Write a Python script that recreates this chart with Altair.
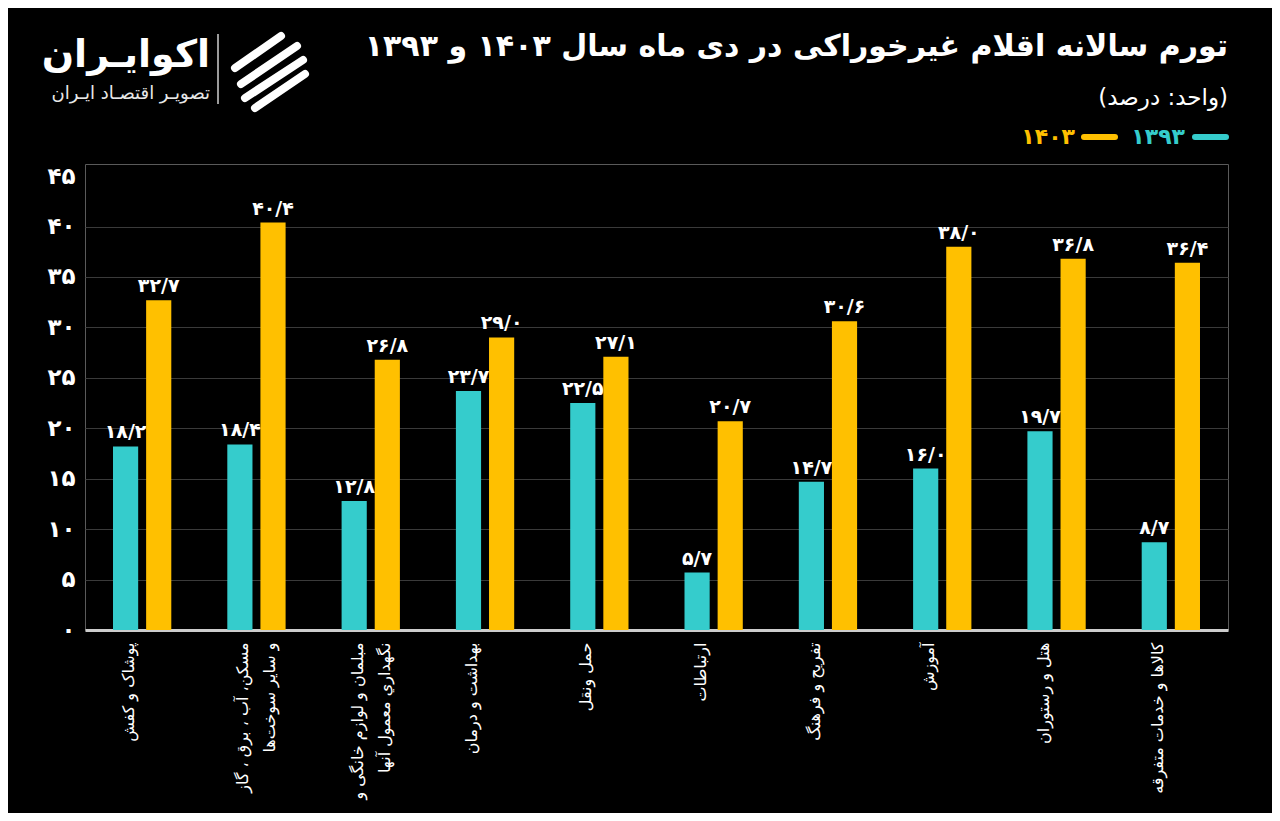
import altair as alt
import pandas as pd

# ---------------- data ----------------
categories = [
    "پوشاک و کفش",
    "مسکن، آب ، برق ، گاز|و سایر سوخت‌ها",
    "مبلمان و لوازم خانگی و|نگهداري معمول آنها",
    "بهداشت و درمان",
    "حمل ونقل",
    "ارتباطات",
    "تفریح و فرهنگ",
    "آموزش",
    "هتل و رستوران",
    "کالاها و خدمات متفرقه",
]
values_1393 = [18.2, 18.4, 12.8, 23.7, 22.5, 5.7, 14.7, 16.0, 19.7, 8.7]
values_1403 = [32.7, 40.4, 26.8, 29.0, 27.1, 20.7, 30.6, 38.0, 36.8, 36.4]
series_names = ["1393", "1403"]
series_labels = ["۱۳۹۳", "۱۴۰۳"]
y_ticks = [0, 5, 10, 15, 20, 25, 30, 35, 40, 45]

title_text = "تورم سالانه اقلام غیرخوراکی در دی ماه سال ۱۴۰۳ و ۱۳۹۳"
subtitle_text = "(واحد: درصد)"
logo_main = "اکوایـران"
logo_sub = "تصویـر اقتصـاد ایـران"

CYAN = "#35CCCC"
YELLOW = "#FFC000"
FONT = "DejaVu Sans"

fa_digits = str.maketrans("0123456789.", "۰۱۲۳۴۵۶۷۸۹/")


def fa(v, dec=1):
    return (f"{v:.{dec}f}").translate(fa_digits)


rows = []
for c, a, b in zip(categories, values_1393, values_1403):
    rows.append({"category": c, "series": "1393", "value": a, "label": fa(a)})
    rows.append({"category": c, "series": "1403", "value": b, "label": fa(b)})
df = pd.DataFrame(rows)

y_tick_labels = [fa(t, 0) for t in y_ticks]
y_label_expr = "[" + ",".join(f"'{s}'" for s in y_tick_labels) + "][round(datum.value/5)]"

W, H = 1143, 466

x_enc = alt.X(
    "category:N",
    sort=categories,
    title=None,
    scale=alt.Scale(paddingInner=0.49, paddingOuter=0.245),
    axis=alt.Axis(
        labelAngle=270,
        labelExpr="split(datum.label, '|')",
        labelFont=FONT,
        labelFontSize=16,
        labelColor="white",
        labelLineHeight=27,
        labelPadding=12,
        labelLimit=400,
        labelOverlap=False,
        labelOffset=-13,
        ticks=False,
        domainColor="#cccccc",
        domainWidth=3,
        grid=False,
    ),
)
xoff_enc = alt.XOffset("series:N", sort=series_names,
                       scale=alt.Scale(paddingInner=0.24, paddingOuter=0))
y_enc = alt.Y(
    "value:Q",
    title=None,
    scale=alt.Scale(domain=[0, 46.2], nice=False),
    axis=alt.Axis(
        values=y_ticks,
        labelExpr=y_label_expr,
        labelFont=FONT,
        labelFontSize=23,
        labelFontWeight="bold",
        labelColor="white",
        labelPadding=10,
        ticks=False,
        domain=False,
        gridColor={"condition": {"test": "datum.value == 45", "value": "transparent"}, "value": "#3a3a3a"},
        gridWidth=1,
    ),
)
color_enc = alt.Color("series:N", scale=alt.Scale(domain=series_names, range=[CYAN, YELLOW]), legend=None)

base = alt.Chart(df)
bars = base.mark_bar().encode(x=x_enc, xOffset=xoff_enc, y=y_enc, color=color_enc)
labels = base.mark_text(baseline="bottom", dy=-4, fontSize=19, fontWeight="bold",
                        color="white", font=FONT).encode(
    x=alt.X("category:N", sort=categories), xOffset=alt.XOffset("series:N", sort=series_names),
    y="value:Q", text="label:N")

# ---------------- header / legend / logo ----------------
title = alt.Chart(pd.DataFrame({"t": [title_text]})).mark_text(
    align="right", baseline="middle", fontSize=30, fontWeight="bold", color="white", font=FONT
).encode(x=alt.value(W), y=alt.value(-117), text="t:N")
subtitle = alt.Chart(pd.DataFrame({"t": [subtitle_text]})).mark_text(
    align="right", baseline="middle", fontSize=23, color="white", font=FONT
).encode(x=alt.value(W), y=alt.value(-66), text="t:N")

leg_c_txt = alt.Chart(pd.DataFrame({"t": [series_labels[0]]})).mark_text(
    align="right", baseline="middle", fontSize=22, fontWeight="bold", color=CYAN, font=FONT
).encode(x=alt.value(1100), y=alt.value(-27), text="t:N")
leg_y_txt = alt.Chart(pd.DataFrame({"t": [series_labels[1]]})).mark_text(
    align="right", baseline="middle", fontSize=22, fontWeight="bold", color=YELLOW, font=FONT
).encode(x=alt.value(990), y=alt.value(-27), text="t:N")
leg_c_line = alt.Chart(pd.DataFrame({"t": [0]})).mark_rule(
    color=CYAN, strokeWidth=6, strokeCap="round"
).encode(x=alt.value(1110), x2=alt.value(1141), y=alt.value(-27))
leg_y_line = alt.Chart(pd.DataFrame({"t": [0]})).mark_rule(
    color=YELLOW, strokeWidth=6, strokeCap="round"
).encode(x=alt.value(999), x2=alt.value(1030), y=alt.value(-27))

logo1 = alt.Chart(pd.DataFrame({"t": [logo_main]})).mark_text(
    align="right", baseline="middle", fontSize=38, fontWeight="bold", color="white", font=FONT
).encode(x=alt.value(125), y=alt.value(-108), text="t:N")
logo2 = alt.Chart(pd.DataFrame({"t": [logo_sub]})).mark_text(
    align="right", baseline="middle", fontSize=18, color="#e8e8e8", font=FONT
).encode(x=alt.value(125), y=alt.value(-70), text="t:N")
sep = alt.Chart(pd.DataFrame({"t": [0]})).mark_rule(color="#cfcfcf", strokeWidth=1.5).encode(
    x=alt.value(133), y=alt.value(-130), y2=alt.value(-60))
# icon: stylised stripes
icon_parts = []
for (x1, y1, x2, y2, w) in [(156, -80, 212, -118, 8), (160, -66, 218, -104, 8),
                            (170, -56, 220, -90, 8), (150, -96, 196, -128, 8)]:
    icon_parts.append(
        alt.Chart(pd.DataFrame({"t": [0]})).mark_rule(color="white", strokeWidth=w, strokeCap="round")
        .encode(x=alt.value(x1), y=alt.value(y1), x2=alt.value(x2), y2=alt.value(y2))
    )

chart = alt.layer(
    bars, labels, title, subtitle, leg_c_txt, leg_y_txt, leg_c_line, leg_y_line,
    logo1, logo2, sep, *icon_parts
).properties(
    width=W, height=H,
    autosize=alt.AutoSizeParams(type="none"),
    padding={"left": 77, "top": 156, "right": 44, "bottom": 183},
    background="#000000",
).configure_view(stroke="#5a5a5a", strokeWidth=1)

chart.save("out.html", embed_options={"renderer": "svg", "actions": False})
